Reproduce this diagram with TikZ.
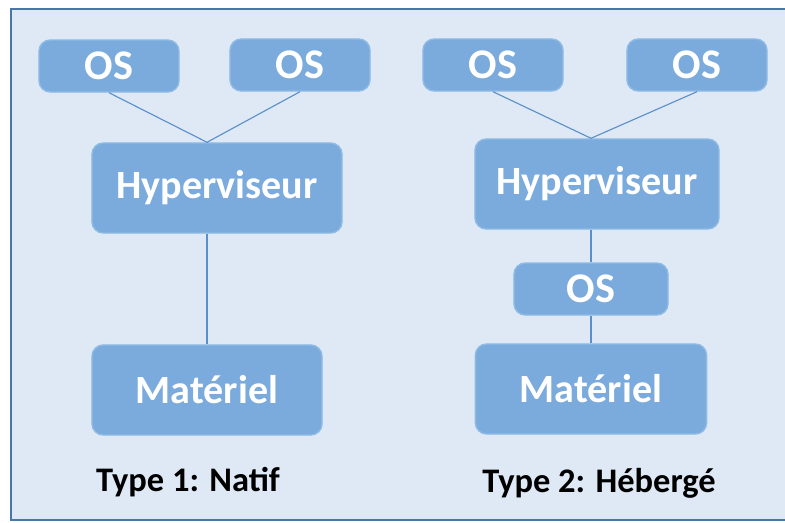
\documentclass[tikz,border=0pt]{standalone}
\usepackage{fontspec}
\setmainfont{Carlito}
\usepackage{tikz}

\definecolor{bgblue}{RGB}{222,233,245}
\definecolor{framblue}{RGB}{74,118,168}
\definecolor{boxblue}{RGB}{123,171,220}
\definecolor{boxedge}{RGB}{142,187,229}
\definecolor{lineblue}{RGB}{91,143,203}

\tikzset{
	box/.style={rounded corners=8pt, fill=boxblue, draw=boxedge, line width=1pt,
		text=white, font=\bfseries\fontsize{28.5}{32}\selectfont, inner sep=0pt},
	osbox/.style={box, font=\bfseries\fontsize{30}{34}\selectfont, minimum width=3.5cm, minimum height=1.3cm},
	link/.style={draw=lineblue, line width=0.8pt},
	typelabel/.style={font=\bfseries\fontsize{24.5}{28}\selectfont, text=black}
}

\begin{document}
\begin{tikzpicture}[x=0.025cm,y=-0.025cm]
	
	\useasboundingbox (0,0) rectangle (785,522);
	% Draw background
	\fill[bgblue] (11,9) rectangle (785,520);
	\draw[framblue, line width=1.5pt] (785,9) -- (11,9) -- (11,520) -- (785,520);
	
	% Draw nodes, type 1
	\node[osbox] (OSa) at (109,66) {OS};
	\node[osbox] (OSb) at (300,65) {OS};
	\node[box, minimum width=6.25cm, minimum height=2.25cm] (Hypa) at (217,188) {Hyperviseur};
	\node[box, minimum width=5.75cm, minimum height=2.25cm] (Mata) at (207,390) {Matériel};
	\node[typelabel] (Typea) at (188,482) {Type 1: Natif};
	
	% Draw nodes, type 2
	\node[osbox] (OSc) at (493,65) {OS};
	\node[osbox] (OSd) at (697,65) {OS};
	\node[box, minimum width=6.1cm, minimum height=2.25cm] (Hypb) at (597,184) {Hyperviseur};
	\node[osbox, minimum width=3.85cm] (OSe) at (591,289) {OS};
	\node[box, minimum width=5.78cm, minimum height=2.25cm] (Matb) at (591,389) {Matériel};
	\node[typelabel] (Typeb) at (599,483) {Type 2: Hébergé};
	
	% Draw lines
	\coordinate (Ja) at (Hypa.north -| Mata.north);
	\coordinate (Jb) at (Hypb.north -| Matb.north);
	\draw[link] (OSa.south) -- (Ja) -- (OSb.south);
	\draw[link] (Ja |- Hypa.south) -- (Mata.north);
	\draw[link] (OSc.south) -- (Jb) -- (OSd.south);
	\draw[link] (Hypb.south -| OSe.north) -- (OSe.north);
	\draw[link] (OSe.south) -- (Matb.north);
	
\end{tikzpicture}
\end{document}
